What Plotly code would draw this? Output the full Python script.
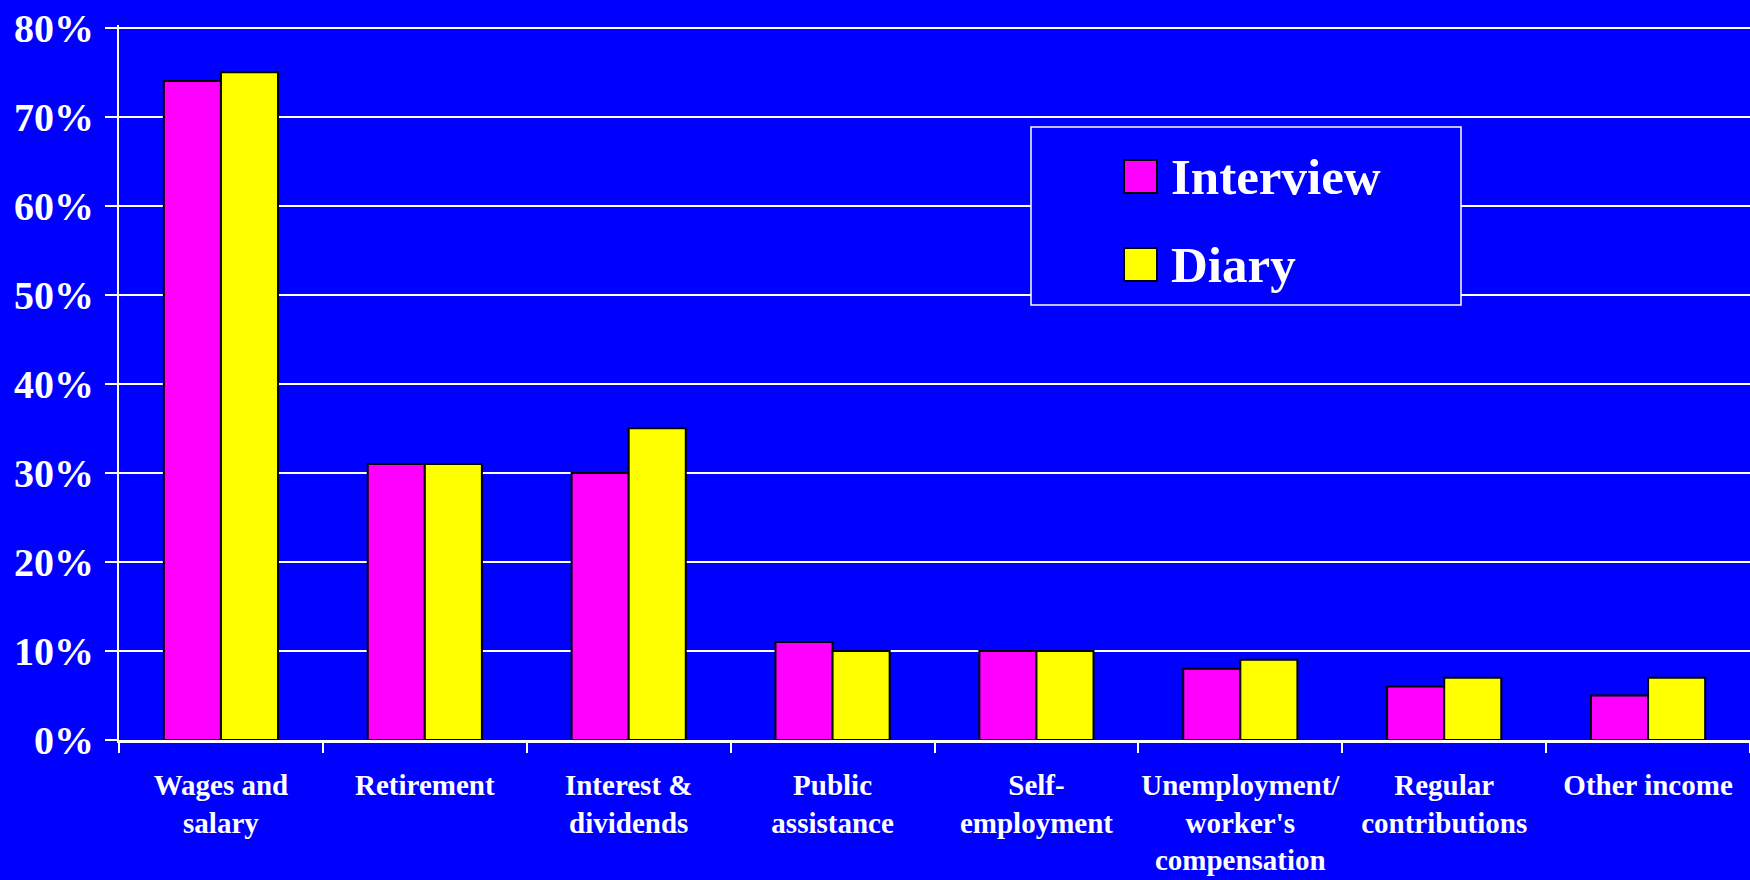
import plotly.graph_objects as go

categories = ["Wages and<br>salary", "Retirement", "Interest &<br>dividends", "Public<br>assistance",
              "Self-<br>employment", "Unemployment/<br>worker's<br>compensation",
              "Regular<br>contributions", "Other income"]
interview = [0.74, 0.31, 0.30, 0.11, 0.10, 0.08, 0.06, 0.05]
diary = [0.75, 0.31, 0.35, 0.10, 0.10, 0.09, 0.07, 0.07]
y_ticks = [0, 0.1, 0.2, 0.3, 0.4, 0.5, 0.6, 0.7, 0.8]

W, H = 1750, 880
L, R, T, B = 119, 0, 25, 140
FONT = "Times New Roman, Liberation Serif, serif"
BG = "#0000FF"
COLORS = {"Interview": "#FF00FF", "Diary": "#FFFF00"}


def px_x(x):
    # pixel -> paper x
    return (x - L) / (W - L - R)


def px_y(y):
    # pixel -> paper y
    return (H - B - y) / (H - B - T)


fig = go.Figure()
for name, vals in [("Interview", interview), ("Diary", diary)]:
    fig.add_trace(go.Bar(
        x=categories, y=vals, name=name,
        marker=dict(color=COLORS[name], line=dict(color="black", width=2)),
        showlegend=False,
    ))

# legend drawn by hand so the swatches can be as big as in the original
fig.add_shape(type="rect", xref="paper", yref="paper",
              x0=px_x(1031), x1=px_x(1461), y0=px_y(305), y1=px_y(127),
              line=dict(color="white", width=1.5), fillcolor=BG, layer="above")
for i, name in enumerate(["Interview", "Diary"]):
    top = 160 + i * 88
    fig.add_shape(type="rect", xref="paper", yref="paper",
                  x0=px_x(1124), x1=px_x(1157), y0=px_y(top + 33), y1=px_y(top),
                  line=dict(color="black", width=2), fillcolor=COLORS[name], layer="above")
    fig.add_annotation(xref="paper", yref="paper", x=px_x(1169), y=px_y(top + 17),
                       xanchor="left", yanchor="middle", showarrow=False, text=name,
                       font=dict(family=FONT, size=51, color="white", weight="bold"))

fig.update_layout(
    width=W, height=H,
    margin=dict(l=L, r=R, t=T, b=B),
    paper_bgcolor=BG, plot_bgcolor=BG,
    barmode="group", bargap=0.44, bargroupgap=0,
    font=dict(family=FONT, color="white"),
)
# range a little above 80% so plotly still draws the top gridline
fig.update_yaxes(range=[0, 0.803], tickvals=y_ticks, tickformat=".0%",
                 showgrid=True, gridcolor="white", gridwidth=2,
                 showline=True, linecolor="white", linewidth=2,
                 ticks="outside", ticklen=12, tickcolor="white", tickwidth=2,
                 ticklabelstandoff=3,
                 tickfont=dict(family=FONT, size=40, color="white", weight="bold"),
                 zeroline=False)
fig.update_xaxes(showline=True, linecolor="white", linewidth=3,
                 ticks="outside", tickson="boundaries", ticklen=10,
                 tickcolor="white", tickwidth=2, ticklabelstandoff=17,
                 tickfont=dict(family=FONT, size=29, color="white", weight="bold"),
                 tickangle=0)

# drop the default page margin so the chart fills the window
fig.write_html("out.html", config={"displayModeBar": False},
               post_script="document.body.style.margin='0';document.body.style.background='#0000FF';")
